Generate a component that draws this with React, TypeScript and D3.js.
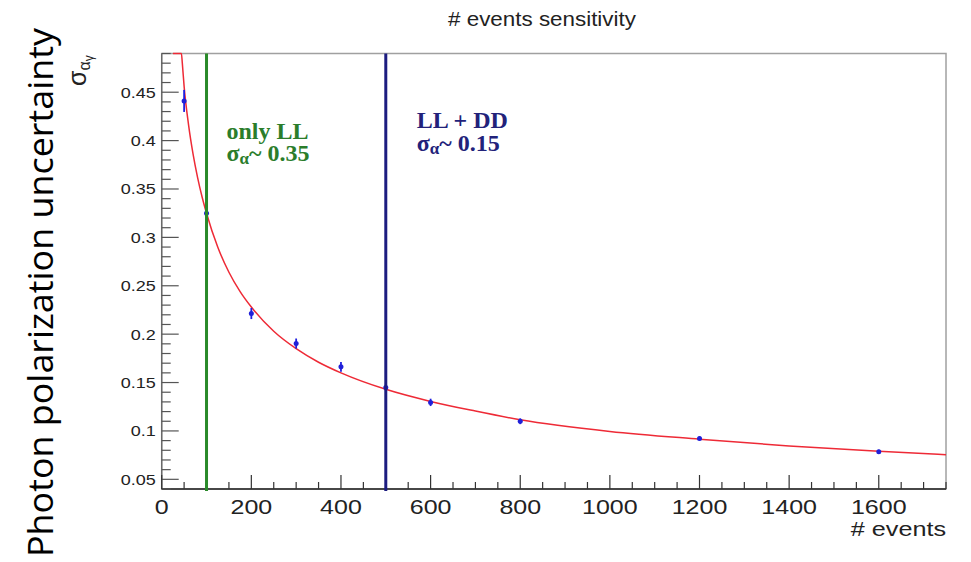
import React from "react";
import * as d3 from "d3";

// ---- data ----
const pointEvents = [50, 100, 200, 300, 400, 500, 600, 800, 1200, 1600];
const pointSigma = [0.441, 0.325, 0.2213, 0.1903, 0.1662, 0.145, 0.1295, 0.110, 0.0923, 0.0785];
const pointError = [0.0114, 0.007, 0.0057, 0.0052, 0.005, 0.004, 0.0038, 0.003, 0.002, 0.002];

const fitEvents = [25, 44, 46, 50, 60, 70, 80, 90, 100, 125, 150, 175, 200, 250, 300, 350, 400, 500, 600, 700, 800, 1000, 1200, 1400, 1600, 1750];
const fitSigma = [0.49, 0.49, 0.48, 0.456, 0.416, 0.386, 0.362, 0.342, 0.325, 0.29, 0.264, 0.244, 0.228, 0.203, 0.185, 0.171, 0.16, 0.143, 0.1305, 0.1205, 0.1115, 0.0995, 0.0915, 0.0845, 0.079, 0.0755];

const xTickLabels = ["0", "200", "400", "600", "800", "1000", "1200", "1400", "1600"];
const yTickLabels = ["0.05", "0.1", "0.15", "0.2", "0.25", "0.3", "0.35", "0.4", "0.45"];

const markerEvents = [100, 500];
const markerTitles = ["only LL", "LL + DD"];
const markerSigma = ["0.35", "0.15"];

const xDomain = [0, 1750];
const yDomain = [0.04, 0.49];

const W = 971;
const H = 562;
const plotL = 161.7, plotR = 946, plotT = 53.5, plotB = 489;

const sx = 1.2; // horizontal stretch of the ROOT canvas text

export default function App() {
  const x = d3.scaleLinear().domain(xDomain).range([plotL, plotR]);
  const y = d3.scaleLinear().domain(yDomain).range([plotB, plotT]);

  const fitData = fitEvents.map((n, i) => [n, Math.min(fitSigma[i], yDomain[1])] as [number, number]);
  const fitPath = d3
    .line<[number, number]>()
    .x((d) => x(d[0]))
    .y((d) => y(d[1]))
    .curve(d3.curveMonotoneX)(fitData) || "";

  const yMinor = d3.range(0, 46).map((i) => +(0.04 + i * 0.01).toFixed(2));
  const xMinor = d3.range(0, 36).map((i) => i * 50);

  const axisFont = "'Liberation Sans', Arial, Helvetica, sans-serif";
  const serif = "'Liberation Serif', 'Times New Roman', serif";
  const colors = ["#2a8a2a", "#1c1c80"];
  const textColors = ["#2b7d2b", "#22227a"];

  return (
    <svg width={W} height={H} style={{ position: "absolute", left: 0, top: 0, background: "#fff" }}>
      <rect x={0} y={0} width={W} height={H} fill="#fff" />

      {/* frame */}
      <rect x={plotL} y={plotT} width={plotR - plotL} height={plotB - plotT} fill="none" stroke="#a0a0a0" strokeWidth={1.5} />
      <line x1={plotL} x2={plotL} y1={plotT} y2={plotB} stroke="#666" strokeWidth={1.3} />
      <line x1={plotL} x2={plotR} y1={plotB} y2={plotB} stroke="#222" strokeWidth={1.5} />

      {/* y ticks */}
      {yMinor.map((v) => {
        const major = Math.abs(v * 100 - Math.round(v * 20) * 5) < 1e-6;
        return (
          <line key={"yt" + v} x1={plotL} x2={plotL + (major ? 17 : 9)} y1={y(v)} y2={y(v)} stroke="#555" strokeWidth={1.2} />
        );
      })}
      {yTickLabels.map((t) => (
        <text
          key={"yl" + t}
          transform={`translate(${plotL - 6},${y(+t) + 5.5}) scale(${sx},1)`}
          textAnchor="end"
          fontFamily={axisFont}
          fontSize={15}
          fill="#222"
        >
          {t}
        </text>
      ))}

      {/* x ticks */}
      {xMinor.map((v) => {
        const major = v % 200 === 0;
        return (
          <line key={"xt" + v} x1={x(v)} x2={x(v)} y1={plotB} y2={plotB - (major ? 14 : 7)} stroke="#333" strokeWidth={1.2} />
        );
      })}
      {xTickLabels.map((t) => (
        <text
          key={"xl" + t}
          transform={`translate(${x(+t)},${514}) scale(1.25,1)`}
          textAnchor="middle"
          fontFamily={axisFont}
          fontSize={20}
          fill="#222"
        >
          {t}
        </text>
      ))}

      {/* axis titles */}
      <text transform={`translate(${plotR},${536}) scale(1.2,1)`} textAnchor="end" fontFamily={axisFont} fontSize={21} fill="#222">
        # events
      </text>
      <text transform={`translate(${86},${86}) rotate(-90)`} fontFamily={axisFont} fill="#222">
        <tspan fontSize={25}>σ</tspan>
        <tspan fontSize={16} dy={4}>α</tspan>
        <tspan fontSize={12} dy={3}>γ</tspan>
      </text>

      {/* title */}
      <text transform={`translate(${542},${26}) scale(1.12,1)`} textAnchor="middle" fontFamily={axisFont} fontSize={20} fill="#222">
        # events sensitivity
      </text>

      {/* fit curve */}
      <path d={fitPath} fill="none" stroke="#ee2a36" strokeWidth={1.5} />

      {/* data points */}
      {pointEvents.map((n, i) => (
        <g key={"p" + n}>
          <line
            x1={x(n)}
            x2={x(n)}
            y1={y(pointSigma[i] - pointError[i])}
            y2={y(pointSigma[i] + pointError[i])}
            stroke="#2020e0"
            strokeWidth={1.8}
          />
          <circle cx={x(n)} cy={y(pointSigma[i])} r={2.5} fill="#2020d8" />
        </g>
      ))}

      {/* vertical marker lines */}
      {markerEvents.map((n, i) => (
        <line key={"m" + n} x1={x(n)} x2={x(n)} y1={plotT} y2={plotB + 2} stroke={colors[i]} strokeWidth={3} />
      ))}

      {/* annotations */}
      {markerEvents.map((n, i) => {
        const tx = x(n) + (i === 0 ? 20 : 31);
        const b1 = i === 0 ? 139 : 128;
        const b2 = i === 0 ? 161 : 151;
        return (
          <g key={"a" + n} fontFamily={serif} fontWeight="bold" fill={textColors[i]}>
            <text x={tx} y={b1} fontSize={24}>
              {markerTitles[i]}
            </text>
            <text x={tx} y={b2} fontSize={24}>
              <tspan>σ</tspan>
              <tspan fontSize={17} dy={3}>α</tspan>
              <tspan dy={-3}>{"~ " + markerSigma[i]}</tspan>
            </text>
          </g>
        );
      })}

      {/* slide label */}
      <text
        transform={`translate(${53},${292.5}) rotate(-90)`}
        textAnchor="middle"
        fontFamily="'Open Sans', 'Noto Sans', sans-serif"
        fontSize={35}
        fill="#000"
        textLength={529}
        lengthAdjust="spacingAndGlyphs"
      >
        Photon polarization uncertainty
      </text>
    </svg>
  );
}
